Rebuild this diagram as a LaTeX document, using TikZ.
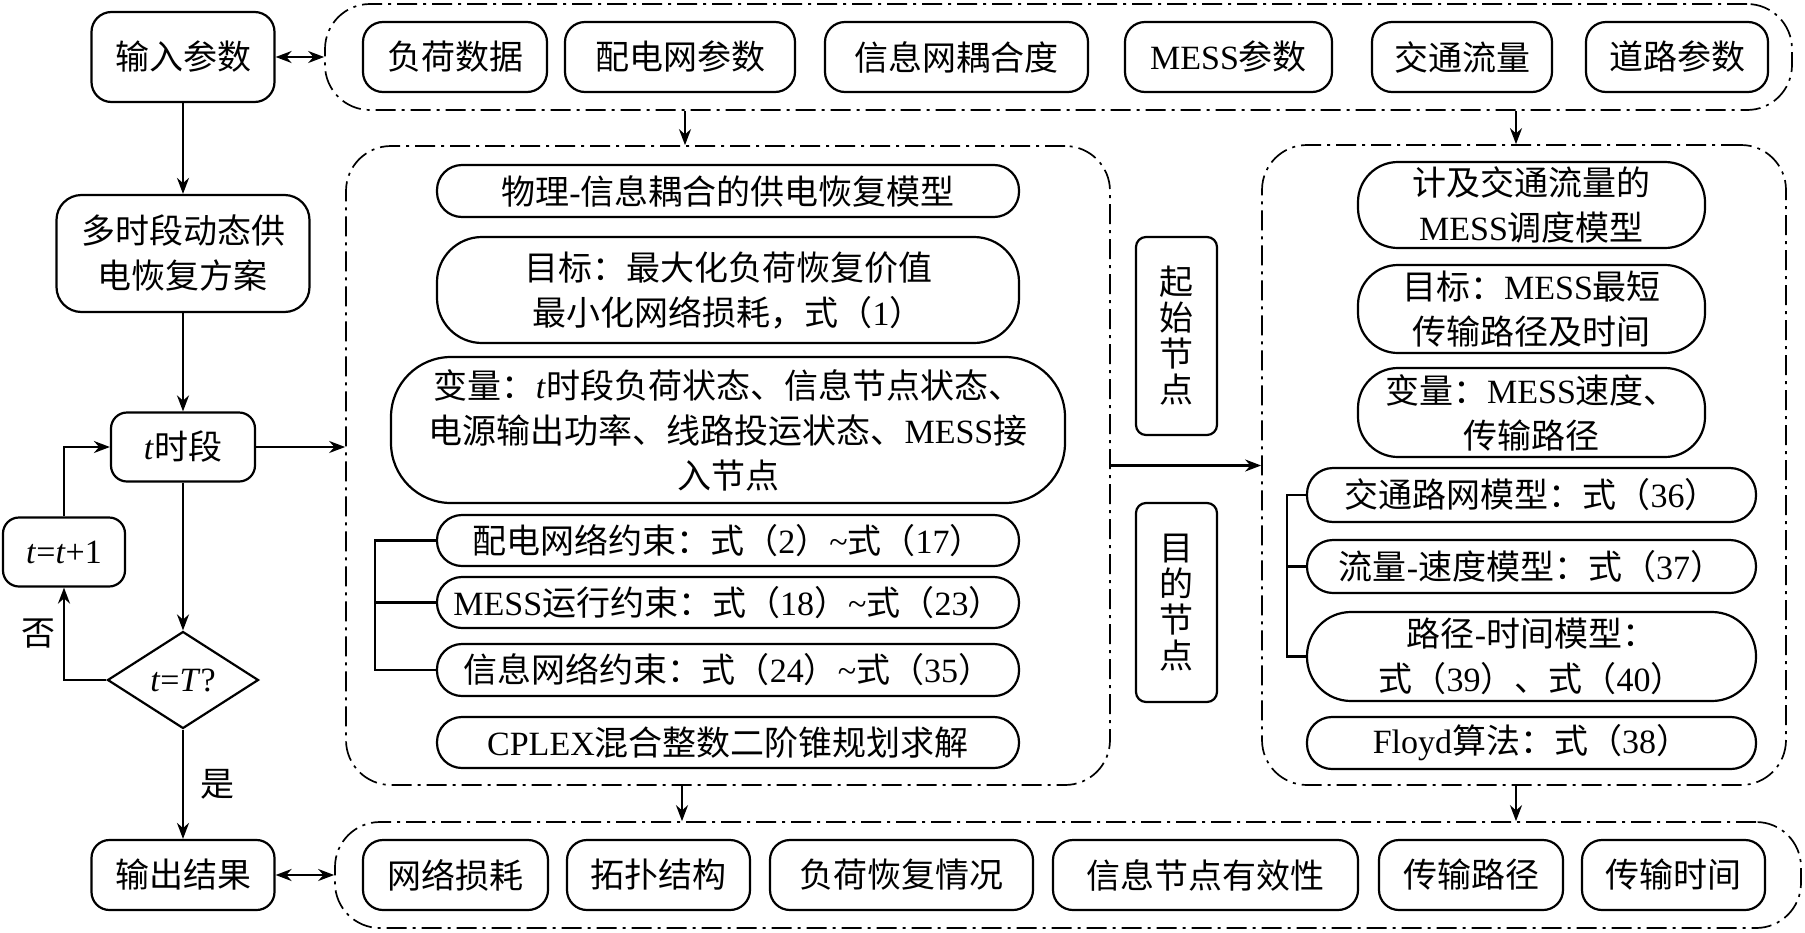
\documentclass[tikz,border=0pt]{standalone}
\usepackage{fontspec}
\setmainfont{Liberation Serif}
\newfontfamily\zhfont{Noto Sans CJK SC}
\usetikzlibrary{shapes.geometric,arrows.meta}

% CJK characters switch to the CJK font, Latin text stays in Liberation Serif
\newXeTeXintercharclass\zhclass
\makeatletter
\def\setzhrange#1#2{\count@=#1
  \loop\XeTeXcharclass\count@=\zhclass
    \advance\count@\@ne
  \ifnum\count@<#2 \repeat}
\makeatother
\setzhrange{"3000}{"3040}
\setzhrange{"4E00}{"A000}
\setzhrange{"FF00}{"FFF0}
\XeTeXinterchartoks 0 \zhclass = {\zhfont}
\XeTeXinterchartoks 4095 \zhclass = {\zhfont}
\XeTeXinterchartoks \zhclass 0 = {\rmfamily}
\XeTeXinterchartoks 4095 0 = {\rmfamily}
\XeTeXinterchartokenstate=1
\newcommand\wave{{\rmfamily\textasciitilde}}

\begin{document}
\begin{tikzpicture}[x=1pt,y=-1pt,font=\fontsize{34}{45}\selectfont,
    >={Stealth[length=16pt,width=12pt]},line width=2.2pt]
  \fill[white] (0,0) rectangle (1805,932);
  \useasboundingbox (0,0) rectangle (1805,932);
  \tikzset{box/.style={draw,rounded corners=#1,inner sep=2pt,align=center},
           box/.default=18pt,
           judge/.style={draw,diamond,minimum width=151pt,minimum height=97pt,inner sep=0pt},
           grp/.style={draw,line width=1.7pt,dash pattern=on 20pt off 6pt on 3pt off 6pt,
                       rounded corners=45pt},
           item/.style={box=20pt,minimum height=70pt},
           vbox/.style={box=10pt,minimum width=81pt,font=\fontsize{34}{36}\selectfont}}

  % left column: main loop over time steps
  \node[box=20pt,minimum width=183pt,minimum height=90pt] (inP) at (183,57) {输入参数};
  \node[box=25pt,minimum width=253pt,minimum height=117pt] (multi) at (183,253.5) {多时段动态供\\电恢复方案};
  \node[box=16pt,minimum width=144pt,minimum height=69pt] (tSeg) at (183,447) {\textit{t}时段};
  \node[judge] (judge) at (183,680) {\textit{t}=\textit{T}?};
  \node[box=16pt,minimum width=122pt,minimum height=69pt] (incr) at (64,552) {\textit{t}=\textit{t}+1};
  \node[box=18pt,minimum width=183pt,minimum height=70pt] (outR) at (183,875) {输出结果};

  % dash-dot groups
  \node[grp,minimum width=1467pt,minimum height=106pt] (inGrp) at (1058.5,57) {};
  \node[grp,minimum width=764pt,minimum height=639pt] (midGrp) at (728,465.5) {};
  \node[grp,minimum width=524pt,minimum height=640pt] (rtGrp) at (1524,465) {};
  \node[grp,minimum width=1466pt,minimum height=106pt] (outGrp) at (1068,875) {};

  \node[item,minimum width=184pt] (load) at (455,57) {负荷数据};
  \node[item,minimum width=230pt] (dist) at (680,57) {配电网参数};
  \node[item,minimum width=263pt] (coup) at (956.5,57) {信息网耦合度};
  \node[item,minimum width=207pt] (mess) at (1228.5,57) {MESS参数};
  \node[item,minimum width=180pt] (flow) at (1462,57) {交通流量};
  \node[item,minimum width=182pt] (road) at (1677,57) {道路参数};

  % restoration model
  \node[box=25pt,minimum width=582pt,minimum height=52pt] (m1) at (728,191) {物理-信息耦合的供电恢复模型};
  \node[box=45pt,minimum width=582pt,minimum height=106pt] (m2) at (728,290) {目标：最大化负荷恢复价值\\最小化网络损耗，式（1）};
  \node[box=60pt,minimum width=674pt,minimum height=146pt] (m3) at (728,430) {变量：\textit{t}时段负荷状态、信息节点状态、\\电源输出功率、线路投运状态、MESS接\\入节点};
  \node[box=25pt,minimum width=582pt,minimum height=51pt] (m4) at (728,540.5) {配电网络约束：式（2）\wave 式（17）};
  \node[box=25pt,minimum width=582pt,minimum height=51pt] (m5) at (728,602.5) {MESS运行约束：式（18）\wave 式（23）};
  \node[box=25pt,minimum width=582pt,minimum height=52pt] (m6) at (728,670) {信息网络约束：式（24）\wave 式（35）};
  \node[box=25pt,minimum width=582pt,minimum height=51pt] (m7) at (728,742.5) {CPLEX混合整数二阶锥规划求解};
  \coordinate (mBus) at (375,0);
  \draw (m4.west) -- (m4.west -| mBus) |- (m6.west);
  \draw (m5.west) -- (m5.west -| mBus);

  \node[vbox,minimum height=198pt] (start) at (1176.5,336) {起\\始\\节\\点};
  \node[vbox,minimum height=199pt] (dest) at (1176.5,602.5) {目\\的\\节\\点};

  % MESS dispatch model
  \node[box=40pt,minimum width=347pt,minimum height=86pt] (r1) at (1531.5,205) {计及交通流量的\\MESS调度模型};
  \node[box=40pt,minimum width=347pt,minimum height=88pt] (r2) at (1531.5,309) {目标：MESS最短\\传输路径及时间};
  \node[box=40pt,minimum width=347pt,minimum height=89pt] (r3) at (1531.5,412.5) {变量：MESS速度、\\传输路径};
  \node[box=26pt,minimum width=449pt,minimum height=54pt] (r4) at (1531.5,495) {交通路网模型：式（36）};
  \node[box=26pt,minimum width=449pt,minimum height=53pt] (r5) at (1531.5,566.5) {流量-速度模型：式（37）};
  \node[box=44pt,minimum width=449pt,minimum height=89pt] (r6) at (1531.5,656.5) {路径-时间模型：\\式（39）、式（40）};
  \node[box=25pt,minimum width=449pt,minimum height=52pt] (r7) at (1531.5,743) {Floyd算法：式（38）};
  \coordinate (rBus) at (1287,0);
  \draw (r4.west) -- (r4.west -| rBus) |- (r6.west);
  \draw (r5.west) -- (r5.west -| rBus);

  \node[item,minimum width=185pt] (loss) at (455.5,875) {网络损耗};
  \node[item,minimum width=183pt] (topo) at (658.5,875) {拓扑结构};
  \node[item,minimum width=263pt] (rest) at (901.5,875) {负荷恢复情况};
  \node[item,minimum width=305pt] (valid) at (1205.5,875) {信息节点有效性};
  \node[item,minimum width=184pt] (path) at (1471,875) {传输路径};
  \node[item,minimum width=183pt] (time) at (1673.5,875) {传输时间};

  % connectors
  \draw[<->] (inP.east) -- (inGrp.west);
  \draw[<->] (outR.east) -- (outGrp.west);
  \draw[->] (inP) -- (multi);
  \draw[->] (multi) -- (tSeg);
  \draw[->] (tSeg) -- (judge);
  \draw[->] (judge) -- node[right=13pt] {是} (outR);
  \draw[->] (judge.west) -| node[pos=0.75,left=4pt] {否} (incr.south);
  \draw[->] (incr.north) |- (tSeg.west);
  \draw[->] (tSeg.east) -- (tSeg.east -| midGrp.west);
  \draw[->] (midGrp.east) -- (midGrp.east -| rtGrp.west);
  \coordinate (midIn) at ([xshift=-43pt]midGrp.north);
  \coordinate (midOut) at ([xshift=-46pt]midGrp.south);
  \coordinate (rtIn) at ([xshift=-8pt]rtGrp.north);
  \coordinate (rtOut) at ([xshift=-8pt]rtGrp.south);
  \draw[->] (midIn |- inGrp.south) -- (midIn);
  \draw[->] (midOut) -- (midOut |- outGrp.north);
  \draw[->] (rtIn |- inGrp.south) -- (rtIn);
  \draw[->] (rtOut) -- (rtOut |- outGrp.north);
\end{tikzpicture}
\end{document}
